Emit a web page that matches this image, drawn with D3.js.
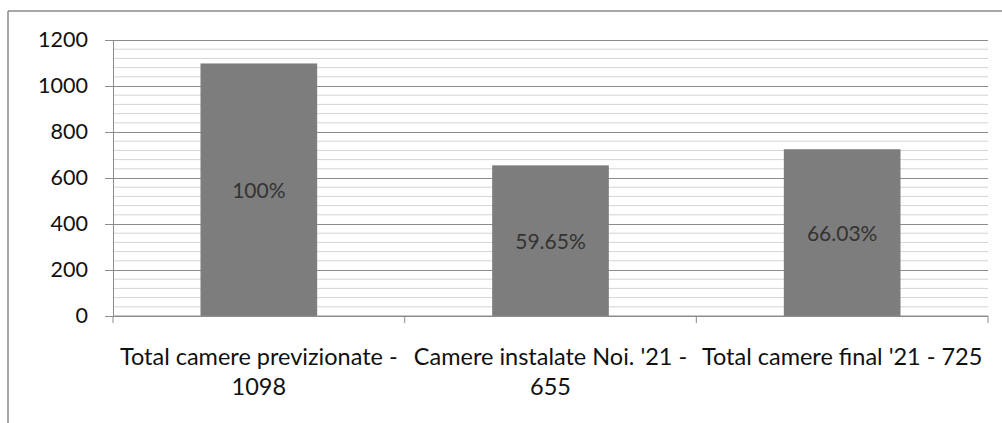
<!DOCTYPE html>
<html>
<head>
<meta charset="utf-8">
<script src="https://cdn.jsdelivr.net/npm/d3@7"></script>
<style>
  html, body { margin: 0; padding: 0; background: #ffffff; }
  svg { display: block; }
  text { font-family: Lato, "Open Sans", sans-serif; }
</style>
</head>
<body>
<svg id="chart" width="1002" height="423"></svg>
<script>
// ---- data ----
const categories = ["Total camere previzionate - 1098", "Camere instalate Noi. '21 - 655", "Total camere final '21 - 725"];
const categoryLines = [["Total camere previzionate -", "1098"], ["Camere instalate Noi. '21 -", "655"], ["Total camere final '21 - 725"]];
const values = [1098, 655, 725];
const percentLabels = ["100%", "59.65%", "66.03%"];
const yTicks = [0, 200, 400, 600, 800, 1000, 1200];
const yMinorTicks = [40, 80, 120, 160, 240, 280, 320, 360, 440, 480, 520, 560, 640, 680, 720, 760, 840, 880, 920, 960, 1040, 1080, 1120, 1160];

// ---- layout ----
const W = 1002, H = 423;
const plot = { left: 113, right: 988, top: 40, bottom: 316 };

const svg = d3.select("#chart");

// outer frame (top and left edges visible in the reference)
svg.append("line").attr("x1", 8).attr("x2", W).attr("y1", 11).attr("y2", 11)
  .attr("stroke", "#8a8a8a").attr("stroke-width", 1.5);
svg.append("line").attr("x1", 8).attr("x2", 8).attr("y1", 11).attr("y2", H)
  .attr("stroke", "#8a8a8a").attr("stroke-width", 1.5);

const y = d3.scaleLinear().domain([0, 1200]).range([plot.bottom, plot.top]);
const x = d3.scaleBand().domain(categories).range([plot.left, plot.right])
  .paddingInner(0.6).paddingOuter(0.3);

// minor gridlines
svg.append("g").selectAll("line").data(yMinorTicks).join("line")
  .attr("x1", plot.left).attr("x2", plot.right)
  .attr("y1", d => y(d)).attr("y2", d => y(d))
  .attr("stroke", "#d4d4d4").attr("stroke-width", 1);

// major gridlines + y axis
const yAxis = d3.axisLeft(y).tickValues(yTicks).tickFormat(d3.format("d")).tickSize(8).tickPadding(17);
const gy = svg.append("g").attr("transform", `translate(${plot.left},0)`).call(yAxis);
gy.select(".domain").attr("stroke", "#8c8c8c");
gy.selectAll(".tick line").attr("stroke", "#8c8c8c");
gy.selectAll(".tick").append("line")
  .attr("x1", 0).attr("x2", plot.right - plot.left)
  .attr("stroke", "#8c8c8c").attr("stroke-width", 1);
gy.selectAll(".tick text").attr("font-size", 21.5).attr("fill", "#111")
  .attr("font-family", "Lato, 'Open Sans', sans-serif");

// bars
svg.append("g").selectAll("rect").data(values).join("rect")
  .attr("x", (d, i) => x(categories[i]))
  .attr("width", x.bandwidth())
  .attr("y", d => y(d))
  .attr("height", d => y(0) - y(d))
  .attr("fill", "#7d7d7d");

// percentage labels centred in bars
svg.append("g").selectAll("text").data(values).join("text")
  .attr("x", (d, i) => x(categories[i]) + x.bandwidth() / 2)
  .attr("y", d => (y(d) + y(0)) / 2)
  .attr("text-anchor", "middle").attr("dominant-baseline", "central")
  .attr("font-size", 21).attr("fill", "#333")
  .text((d, i) => percentLabels[i]);

// x axis line with category boundary ticks
const step = x.step();
const boundaries = d3.range(categories.length + 1).map(i => plot.left + i * step);
svg.append("line").attr("x1", plot.left).attr("x2", plot.right)
  .attr("y1", y(0)).attr("y2", y(0)).attr("stroke", "#8c8c8c");
svg.append("g").selectAll("line").data(boundaries).join("line")
  .attr("x1", d => d).attr("x2", d => d)
  .attr("y1", y(0)).attr("y2", y(0) + 7).attr("stroke", "#8c8c8c");

// category labels
const cl = svg.append("g").selectAll("text").data(categories).join("text")
  .attr("text-anchor", "middle").attr("font-size", 23.5).attr("fill", "#111")
  .attr("x", d => x(d) + x.bandwidth() / 2)
  .attr("y", 365);
cl.selectAll("tspan").data((d, i) => categoryLines[i]).join("tspan")
  .attr("x", function () { return d3.select(this.parentNode).attr("x"); })
  .attr("dy", (d, i) => i === 0 ? 0 : 30)
  .text(d => d);
</script>
</body>
</html>
